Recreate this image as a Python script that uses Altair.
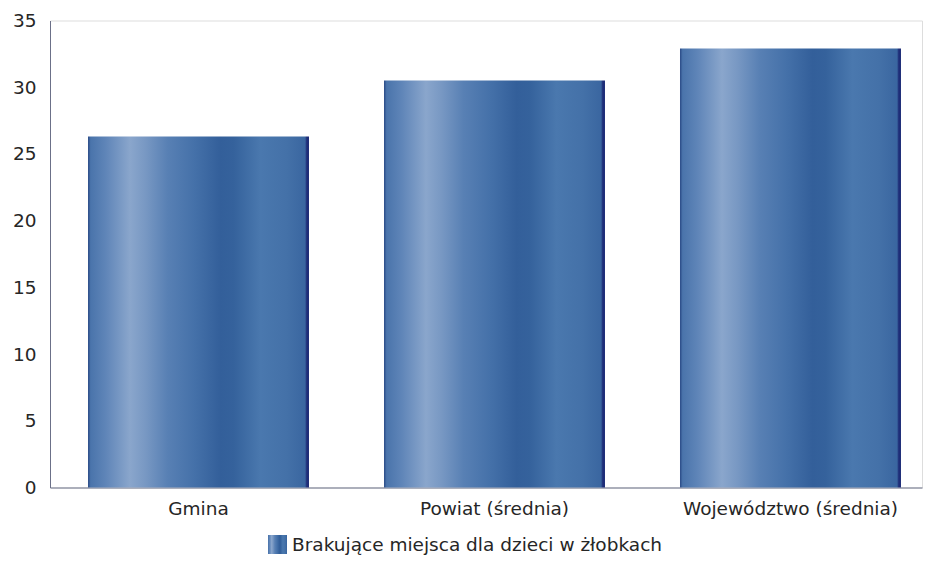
import altair as alt
import pandas as pd

categories = ["Gmina", "Powiat (średnia)", "Województwo (średnia)"]
values = [26.3, 30.5, 32.9]
series_name = "Brakujące miejsca dla dzieci w żłobkach"
y_ticks = [0, 5, 10, 15, 20, 25, 30, 35]

grad_offsets = [0.0, 0.012, 0.08, 0.19, 0.26, 0.36, 0.48, 0.60, 0.66, 0.78, 0.90, 0.982, 0.99, 1.0]
grad_colors = ["#2a4a86", "#4a74ab", "#5f85b8", "#8aa6cc", "#7898c3", "#5880b4", "#4571a9",
               "#335f9a", "#35629c", "#4a78ae", "#4471a8", "#3a66a0", "#1e2d78", "#1e2d78"]

stops = ",".join("{offset: %s, color: '%s'}" % (o, c) for o, c in zip(grad_offsets, grad_colors))
grad_expr = "{gradient: 'linear', x1: 0, y1: 0, x2: 1, y2: 0, stops: [" + stops + "]}"

df = pd.DataFrame({"kategoria": categories, "wartosc": values, "seria": [series_name] * len(categories)})

FONT = "DejaVu Sans"

chart = alt.Chart(df).mark_bar().encode(
    x=alt.X("kategoria:N", sort=categories,
            scale=alt.Scale(paddingInner=0.2534, paddingOuter=0.0997, align=0.644),
            axis=alt.Axis(title=None, labelAngle=0, ticks=False, tickSize=0, labelPadding=12,
                          labelFontSize=18.5, labelColor="#262626", labelFont=FONT, labelLimit=0,
                          domainColor="#6b7088", domainWidth=1, grid=False)),
    y=alt.Y("wartosc:Q",
            scale=alt.Scale(domain=[0, 35], nice=False),
            axis=alt.Axis(title=None, values=y_ticks, ticks=False, tickSize=0, labelPadding=14,
                          labelFontSize=18.5, labelColor="#262626", labelFont=FONT,
                          domainColor="#6b7088", domainWidth=1, grid=False)),
    color=alt.Color("seria:N",
                    scale=alt.Scale(range=[{"expr": grad_expr}]),
                    legend=alt.Legend(title=None, orient="none", legendX=218, legendY=514.5,
                                      symbolType="square", symbolSize=361, symbolStrokeWidth=0,
                                      labelFontSize=18.5, labelFont=FONT, labelColor="#262626",
                                      labelOffset=5, labelLimit=0)),
).properties(
    width=872,
    height=467,
    autosize=alt.AutoSizeParams(type="none"),
    padding={"left": 42, "top": 12.5, "right": 1, "bottom": 69.5},
).configure_view(stroke=None).configure(font=FONT)

chart.save("out.html", embed_options={"renderer": "svg", "actions": False})
